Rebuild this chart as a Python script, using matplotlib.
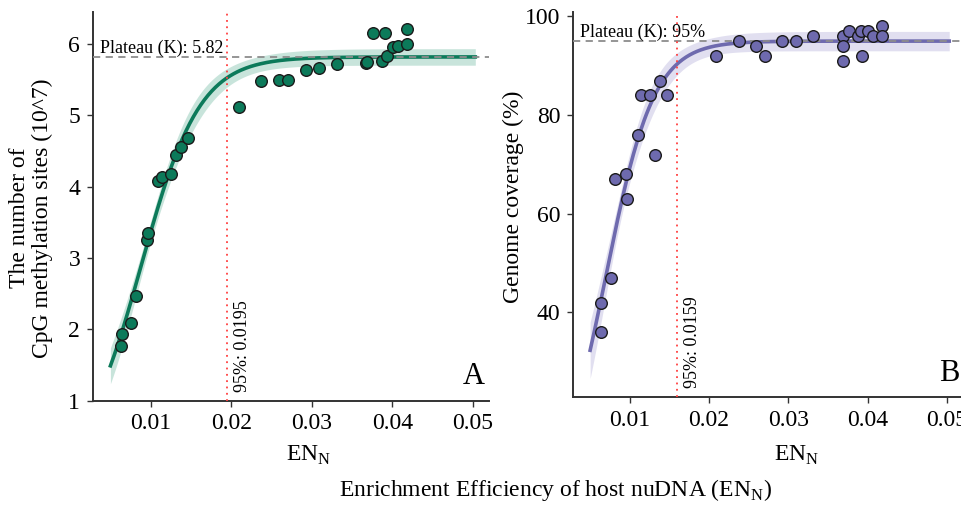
import numpy as np
import matplotlib
matplotlib.use("Agg")
import matplotlib.pyplot as plt
import matplotlib.transforms as mtransforms

plt.rcParams['font.family'] = ['Liberation Serif', 'DejaVu Serif']

# ---- data ----
# panel A: CpG methylation sites (10^7)
xa = [0.00631, 0.00640, 0.00759, 0.00817, 0.00954, 0.00966, 0.01094, 0.01137,
      0.01252, 0.01311, 0.01373, 0.01467, 0.02093, 0.02370, 0.02594, 0.02709,
      0.02929, 0.03094, 0.03318, 0.03678, 0.03687, 0.03762, 0.03873, 0.03907,
      0.03932, 0.04006, 0.04072, 0.04184, 0.04188]
ya = [1.77, 1.93, 2.09, 2.47, 3.26, 3.35, 4.08, 4.14,
      4.18, 4.44, 4.56, 4.68, 5.12, 5.48, 5.49, 5.50,
      5.63, 5.66, 5.72, 5.74, 5.75, 6.16, 5.76, 6.16,
      5.83, 5.96, 5.98, 6.21, 6.00]

# panel B: genome coverage (%)
xb = [0.00631, 0.00635, 0.00761, 0.00815, 0.00958, 0.00971, 0.01105, 0.01139,
      0.01261, 0.01315, 0.01378, 0.01466, 0.02083, 0.02377, 0.02596, 0.02709,
      0.02923, 0.03094, 0.03317, 0.03686, 0.03686, 0.03691, 0.03762, 0.03875,
      0.03918, 0.03926, 0.04010, 0.04069, 0.04178, 0.04183]
yb = [36, 42, 47, 67, 68, 63, 76, 84,
      84, 72, 87, 84, 92, 95, 94, 92,
      95, 95, 96, 96, 94, 91, 97, 96,
      97, 92, 97, 96, 98, 96]

# logistic fit parameters (K, r, x0) and the 95% points printed on the chart
fit_a = (5.82, 276.6, 0.00886)
fit_b = (95.0, 330.9, 0.00700)
x95_a = 0.0195
x95_b = 0.0159


def logistic(x, K, r, x0):
    return K / (1 + np.exp(-r * (x - x0)))


def band(x, xd, yd, K, r, x0):
    # delta-method 95% band around the logistic curve
    def jac(xx):
        e = np.exp(-r * (xx - x0))
        d = (1 + e) ** 2
        return np.column_stack([1 / (1 + e), K * e * (xx - x0) / d, -K * e * r / d])
    xd = np.asarray(xd)
    res = np.asarray(yd) - logistic(xd, K, r, x0)
    s2 = np.sum(res ** 2) / (len(xd) - 3)
    Jd = jac(xd)
    cov = s2 * np.linalg.pinv(Jd.T @ Jd)
    Jx = jac(x)
    se = np.sqrt(np.einsum('ij,jk,ik->i', Jx, cov, Jx))
    return 1.96 * se


W, H = 961, 507
fig = plt.figure(figsize=(W / 100, H / 100), dpi=100)

axA = fig.add_axes([92.7 / W, 106.3 / H, 396.3 / W, 388.7 / H])
axB = fig.add_axes([572.7 / W, 109.7 / H, 390.0 / W, 385.3 / H])

panels = [
    (axA, xa, ya, fit_a, x95_a, '#0c7a5a', '#bfe0d5', (1, 6.45), [1, 2, 3, 4, 5, 6],
     'Plateau (K): 5.82', '95%: 0.0195',
     'The number of\nCpG methylation sites (10^7)', (-0.10, 0.47)),
    (axB, xb, yb, fit_b, x95_b, '#6e6aae', '#dcdaee', (22.8, 100.9), [40, 60, 80, 100],
     'Plateau (K): 95%', '95%: 0.0159',
     'Genome coverage (%)', (-0.125, 0.52)),
]

xs = np.linspace(0.005, 0.0503, 300)

for ax, xd, yd, fit, x95, col, bcol, ylim, yt, ptxt, vtxt, ylab, lpos in panels:
    K, r, x0 = fit
    yfit = logistic(xs, K, r, x0)
    hw = band(xs, xd, yd, K, r, x0)
    ax.fill_between(xs, yfit - hw, yfit + hw, color=bcol, alpha=0.85, lw=0, zorder=1)
    ax.plot(xs, yfit, color=col, lw=2.6, zorder=2)
    ax.axhline(K, color='#8c8c8c', ls=(0, (4, 3)), lw=1.3, zorder=3)
    ax.axvline(x95, color='#ff4040', ls=(0, (1, 2.5)), lw=1.3, zorder=3)
    ax.scatter(xd, yd, s=70, facecolor=col, edgecolor='#1a1a1a', linewidth=1.0, zorder=4)

    ax.set_xlim(0.0028, 0.052)
    ax.set_ylim(*ylim)
    ax.set_xticks([0.01, 0.02, 0.03, 0.04, 0.05])
    ax.set_xticklabels(['0.01', '0.02', '0.03', '0.04', '0.05'])
    ax.set_yticks(yt)
    ax.tick_params(labelsize=17, length=4, width=1, color='#333333', pad=5)
    for s in ['top', 'right']:
        ax.spines[s].set_visible(False)
    for s in ['left', 'bottom']:
        ax.spines[s].set_color('#333333')
        ax.spines[s].set_linewidth(1.4)
    ax.set_ylabel(ylab, fontsize=17, linespacing=1.1)
    ax.yaxis.set_label_coords(*lpos)

    trans = mtransforms.blended_transform_factory(ax.transAxes, ax.transData)
    ax.text(0.018, K, ptxt, transform=trans, fontsize=13, ha='left', va='bottom')
    ax.annotate(vtxt, xy=(x95, ylim[0]), xytext=(7, 9), textcoords='offset pixels',
                rotation=90, fontsize=13, ha='left', va='bottom')

axA.text(0.99, 0.025, 'A', transform=axA.transAxes, fontsize=22, ha='right', va='bottom')
fig.text(959 / W, 1 - 388 / H, 'B', fontsize=22, ha='right', va='bottom')

fig.text(309 / W, 1 - 455 / H, r'EN$_\mathregular{N}$', fontsize=17, ha='center', va='center')
fig.text(797 / W, 1 - 455 / H, r'EN$_\mathregular{N}$', fontsize=17, ha='center', va='center')
fig.text(556 / W, 1 - 490 / H, r'Enrichment Efficiency of host nuDNA (EN$_\mathregular{N}$)',
         fontsize=17, ha='center', va='center')

fig.savefig('out.png', dpi=100)
